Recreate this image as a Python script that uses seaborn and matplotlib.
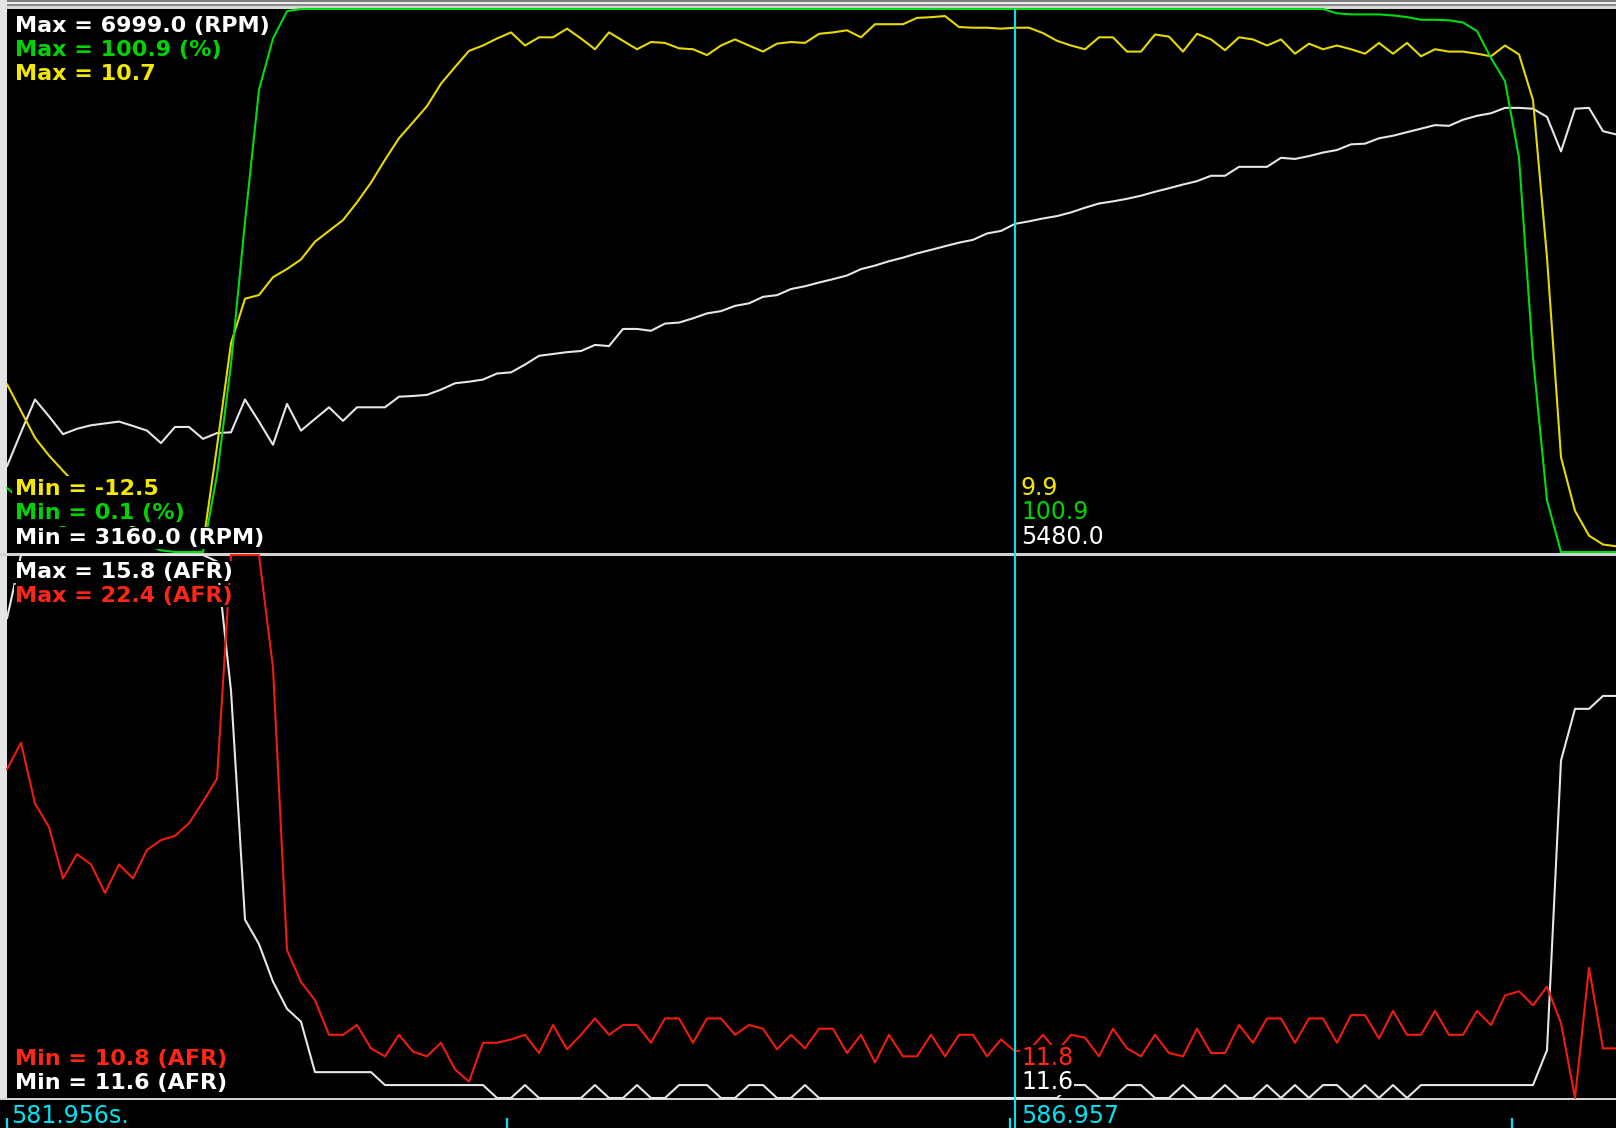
"""Recreación de la captura del datalogger: RPM / TPS / avance arriba, AFR abajo."""

import matplotlib
matplotlib.use('Agg')  # backend sin pantalla
import matplotlib.pyplot as plt
from matplotlib.patches import Rectangle
import numpy as np
import pandas as pd
import seaborn as sns

# ---------------------------------------------------------------------------
# Datos (una muestra cada ~0.069 s)
# ---------------------------------------------------------------------------
start_time = 581.956
sample_dt = 0.06946
cursor_idx = 72
tick_times = [581.956, 584.437, 586.930, 589.423]

rpm_range = (3160.0, 6999.0)
rpm = [
    3766, 4006, 4238, 4119, 3993, 4031, 4056, 4069, 4082, 4051,
    4018, 3930, 4044, 4044, 3960, 4001, 4006, 4238, 4082, 3918,
    4207, 4018, 4101, 4183, 4087, 4183, 4183, 4183, 4258, 4263,
    4271, 4308, 4353, 4364, 4379, 4422, 4430, 4485, 4547, 4560,
    4573, 4581, 4624, 4616, 4737, 4737, 4724, 4775, 4782, 4812,
    4847, 4863, 4900, 4918, 4964, 4976, 5019, 5039, 5065, 5089,
    5115, 5160, 5185, 5216, 5241, 5271, 5296, 5322, 5347, 5367,
    5412, 5430, 5480, 5498, 5518, 5535, 5561, 5594, 5624, 5639,
    5657, 5679, 5707, 5732, 5758, 5782, 5820, 5820, 5883, 5883,
    5883, 5947, 5939, 5959, 5984, 6002, 6042, 6047, 6085, 6103,
    6128, 6153, 6178, 6173, 6216, 6244, 6262, 6300, 6300, 6294,
    6236, 5992, 6294, 6300, 6135, 6111,
]

tps_range = (0.1, 100.9)
tps = [
    12.0, 9.7, 7.6, 6.0, 4.8, 3.8, 3.0, 2.4, 2.0, 1.7,
    1.4, 0.4, 0.1, 0.1, 0.1, 14.4, 34.9, 61.4, 85.9, 95.4,
    100.5, 100.9, 100.9, 100.9, 100.9, 100.9, 100.9, 100.9, 100.9, 100.9,
    100.9, 100.9, 100.9, 100.9, 100.9, 100.9, 100.9, 100.9, 100.9, 100.9,
    100.9, 100.9, 100.9, 100.9, 100.9, 100.9, 100.9, 100.9, 100.9, 100.9,
    100.9, 100.9, 100.9, 100.9, 100.9, 100.9, 100.9, 100.9, 100.9, 100.9,
    100.9, 100.9, 100.9, 100.9, 100.9, 100.9, 100.9, 100.9, 100.9, 100.9,
    100.9, 100.9, 100.9, 100.9, 100.9, 100.9, 100.9, 100.9, 100.9, 100.9,
    100.9, 100.9, 100.9, 100.9, 100.9, 100.9, 100.9, 100.9, 100.9, 100.9,
    100.9, 100.9, 100.9, 100.9, 100.9, 100.1, 99.9, 99.9, 99.9, 99.7,
    99.4, 98.9, 98.9, 98.8, 98.4, 96.8, 91.8, 87.5, 73.3, 36.2,
    9.7, 0.1, 0.1, 0.1, 0.1, 0.1,
]

timing_range = (-12.5, 10.7)
timing = [
    -5.33, -6.47, -7.62, -8.38, -9.03, -9.67, -10.28, -10.74, -11.12, -11.43,
    -11.65, -11.90, -12.03, -12.18, -12.18, -8.00, -3.58, -1.68, -1.52, -0.76,
    -0.41, 0.00, 0.76, 1.22, 1.68, 2.44, 3.28, 4.26, 5.18, 5.86,
    6.55, 7.51, 8.22, 8.91, 9.14, 9.44, 9.70, 9.14, 9.49, 9.49,
    9.86, 9.44, 8.98, 9.70, 9.34, 8.98, 9.29, 9.25, 9.02, 8.98,
    8.73, 9.14, 9.40, 9.14, 8.88, 9.22, 9.29, 9.25, 9.64, 9.70,
    9.79, 9.49, 10.05, 10.05, 10.05, 10.32, 10.35, 10.40, 9.93, 9.90,
    9.90, 9.86, 9.90, 9.90, 9.67, 9.34, 9.14, 8.98, 9.49, 9.49,
    8.88, 8.88, 9.61, 9.52, 8.88, 9.64, 9.40, 8.94, 9.49, 9.40,
    9.14, 9.40, 8.79, 9.22, 8.98, 9.14, 8.98, 8.79, 9.25, 8.79,
    9.25, 8.68, 8.98, 8.88, 8.88, 8.79, 8.68, 9.14, 8.76, 6.81,
    0.08, -8.45, -10.74, -11.80, -12.18, -12.26,
]

afr_white_range = (11.6, 15.8)
afr_white = [
    15.31, 15.80, 15.80, 15.80, 15.80, 15.80, 15.80, 15.80, 15.80, 15.80,
    15.80, 15.80, 15.80, 15.80, 15.80, 15.75, 14.75, 12.98, 12.79, 12.50,
    12.29, 12.19, 11.80, 11.80, 11.80, 11.80, 11.80, 11.70, 11.70, 11.70,
    11.70, 11.70, 11.70, 11.70, 11.70, 11.60, 11.60, 11.70, 11.60, 11.60,
    11.60, 11.60, 11.70, 11.60, 11.60, 11.70, 11.60, 11.60, 11.70, 11.70,
    11.70, 11.60, 11.60, 11.70, 11.70, 11.60, 11.60, 11.70, 11.60, 11.60,
    11.60, 11.60, 11.60, 11.60, 11.60, 11.60, 11.60, 11.60, 11.60, 11.60,
    11.60, 11.60, 11.60, 11.60, 11.60, 11.60, 11.70, 11.70, 11.60, 11.60,
    11.70, 11.70, 11.60, 11.60, 11.70, 11.60, 11.60, 11.70, 11.60, 11.60,
    11.70, 11.60, 11.70, 11.60, 11.70, 11.70, 11.60, 11.70, 11.60, 11.70,
    11.60, 11.70, 11.70, 11.70, 11.70, 11.70, 11.70, 11.70, 11.70, 11.70,
    11.97, 14.21, 14.61, 14.61, 14.71, 14.71,
]

afr_red_range = (10.8, 22.4)
afr_red = [
    17.82, 18.39, 17.09, 16.59, 15.49, 16.01, 15.79, 15.18, 15.79, 15.49,
    16.10, 16.31, 16.40, 16.67, 17.13, 17.62, 22.40, 22.40, 22.40, 19.99,
    13.96, 13.28, 12.89, 12.15, 12.15, 12.36, 11.86, 11.69, 12.15, 11.79,
    11.69, 11.98, 11.41, 11.15, 11.98, 11.98, 12.05, 12.15, 11.76, 12.36,
    11.84, 12.15, 12.50, 12.15, 12.36, 12.36, 11.98, 12.50, 12.50, 11.98,
    12.50, 12.50, 12.15, 12.36, 12.28, 11.84, 12.15, 11.86, 12.28, 12.28,
    11.76, 12.15, 11.56, 12.15, 11.69, 11.69, 12.15, 11.69, 12.15, 12.15,
    11.69, 12.05, 11.80, 11.82, 12.15, 11.79, 12.15, 12.09, 11.69, 12.28,
    11.86, 11.69, 12.15, 11.76, 11.69, 12.28, 11.76, 11.76, 12.36, 11.98,
    12.50, 12.50, 11.98, 12.50, 12.50, 11.98, 12.57, 12.57, 12.07, 12.66,
    12.15, 12.15, 12.66, 12.15, 12.15, 12.66, 12.36, 12.99, 13.08, 12.78,
    13.18, 12.40, 10.80, 13.58, 11.86, 11.86,
]

# ---------------------------------------------------------------------------
# Colores y geometría (en píxeles de la captura 1616x1128)
# ---------------------------------------------------------------------------
WHITE, WHITE_LINE = '#ffffff', '#e6e6e6'
GREEN, GREEN_LINE = '#00d400', '#00dc10'
YELLOW, YELLOW_LINE = '#f2e800', '#e6da00'
RED, RED_LINE = '#ff2616', '#f01c0e'
CYAN = '#00e4f2'
GREY = '#d2d2d2'

W, H = 1616, 1128
PLOT_X0 = 7
PX_PER_SAMPLE = 14


def fx(px):
    return px / W


def fy(py):
    return 1 - py / H


def rect_from_px(y_top, y_bottom):
    return [fx(PLOT_X0), fy(y_bottom), fx(W - PLOT_X0), (y_bottom - y_top) / H]


time = start_time + sample_dt * np.arange(len(rpm))
x_end = start_time + (W - PLOT_X0) / PX_PER_SAMPLE * sample_dt

sns.set_theme(style='dark', rc={'figure.facecolor': 'black', 'axes.facecolor': 'black'})
plt.rcParams['font.family'] = ['DejaVu Sans']

fig = plt.figure(figsize=(W / 100, H / 100), dpi=100, facecolor='black')

# Marcos grises de la ventana
for (x, y, w, h, c) in [
    (0, 0, W, 2, '#7c7c7c'), (0, 2, W, 2, '#ececec'), (0, 4, W, 2, '#8a8a8a'),
    (0, 6, W, 3, '#d6d6d6'), (0, 0, PLOT_X0, 1100, '#e4e4e4'),
    (0, 552.5, W, 3.5, GREY), (0, 1097.5, W, 2.5, GREY),
]:
    fig.add_artist(Rectangle((fx(x), fy(y + h)), w / W, h / H, transform=fig.transFigure,
                             facecolor=c, edgecolor='none', zorder=-1))


def draw_series(ax, values, vrange, color):
    df = pd.DataFrame({'t': time, 'v': values})
    sns.lineplot(data=df, x='t', y='v', ax=ax, color=color, linewidth=1.5,
                 errorbar=None, clip_on=False)
    ax.set_xlim(start_time, x_end)
    ax.set_ylim(*vrange)
    ax.set_axis_off()


# Panel superior: RPM, avance y TPS
ax_rpm = fig.add_axes(rect_from_px(9, 552))
ax_timing = ax_rpm.twinx()
ax_tps = ax_rpm.twinx()
draw_series(ax_rpm, rpm, rpm_range, WHITE_LINE)
draw_series(ax_timing, timing, timing_range, YELLOW_LINE)
draw_series(ax_tps, tps, tps_range, GREEN_LINE)

# Panel inferior: dos sondas AFR
ax_afr_w = fig.add_axes(rect_from_px(555, 1098))
ax_afr_r = ax_afr_w.twinx()
draw_series(ax_afr_w, afr_white, afr_white_range, WHITE_LINE)
draw_series(ax_afr_r, afr_red, afr_red_range, RED_LINE)

# Cursor vertical
ax_cur = fig.add_axes([fx(PLOT_X0), 0, fx(W - PLOT_X0), fy(9)])
ax_cur.set_xlim(start_time, x_end)
ax_cur.set_ylim(0, 1)
ax_cur.axvline(time[cursor_idx], color=CYAN, linewidth=1.5)
ax_cur.set_axis_off()
ax_cur.set_zorder(2)

# Barra de tiempo
ax_time = fig.add_axes([fx(PLOT_X0), 0, fx(W - PLOT_X0), 28 / H])
ax_time.set_xlim(start_time, x_end)
ax_time.set_ylim(0, 28)
ax_time.vlines(tick_times, 0, 10, color=CYAN, linewidth=1.6, clip_on=False)
ax_time.set_axis_off()


def put(text, x, base, color, bold=True, size=16, pad=0.05):
    box = dict(boxstyle=f'square,pad={pad}', facecolor='black', edgecolor='none')
    fig.text(fx(x), fy(base), text, color=color, fontsize=size, va='baseline', ha='left',
             fontweight='bold' if bold else 'normal', bbox=box, zorder=3)


cx = 1021
# Etiquetas del panel superior
put(f"Max = {rpm_range[1]:.1f} (RPM)", 15, 32, WHITE)
put(f"Max = {tps_range[1]:.1f} (%)", 15, 56, GREEN)
put(f"Max = {timing_range[1]:.1f}", 15, 80, YELLOW)
put(f"Min = {timing_range[0]:.1f}", 15, 495, YELLOW, pad=0.12)
put(f"Min = {tps_range[0]:.1f} (%)", 15, 519, GREEN, pad=0.12)
put(f"Min = {rpm_range[0]:.1f} (RPM)", 15, 544, WHITE, pad=0.05)
put(f"{timing[cursor_idx]:.1f}", cx, 495, YELLOW, bold=False, size=17)
put(f"{tps[cursor_idx]:.1f}", cx, 519, GREEN, bold=False, size=17)
put(f"{rpm[cursor_idx]:.1f}", cx, 544, WHITE, bold=False, size=17)

# Etiquetas del panel inferior
put(f"Max = {afr_white_range[1]:.1f} (AFR)", 15, 578, WHITE)
put(f"Max = {afr_red_range[1]:.1f} (AFR)", 15, 602, RED)
put(f"Min = {afr_red_range[0]:.1f} (AFR)", 15, 1065, RED)
put(f"Min = {afr_white_range[0]:.1f} (AFR)", 15, 1089, WHITE)
put(f"{afr_red[cursor_idx]:.1f}", cx, 1065, RED, bold=False, size=17)
put(f"{afr_white[cursor_idx]:.1f}", cx, 1089, WHITE, bold=False, size=17)

# Tiempos
put(f"{start_time:.3f}s.", 11, 1123, CYAN, bold=False, size=17)
put(f"{time[cursor_idx]:.3f}", cx, 1123, CYAN, bold=False, size=17)

fig.savefig('out.png', dpi=100, facecolor='black')
plt.close(fig)
